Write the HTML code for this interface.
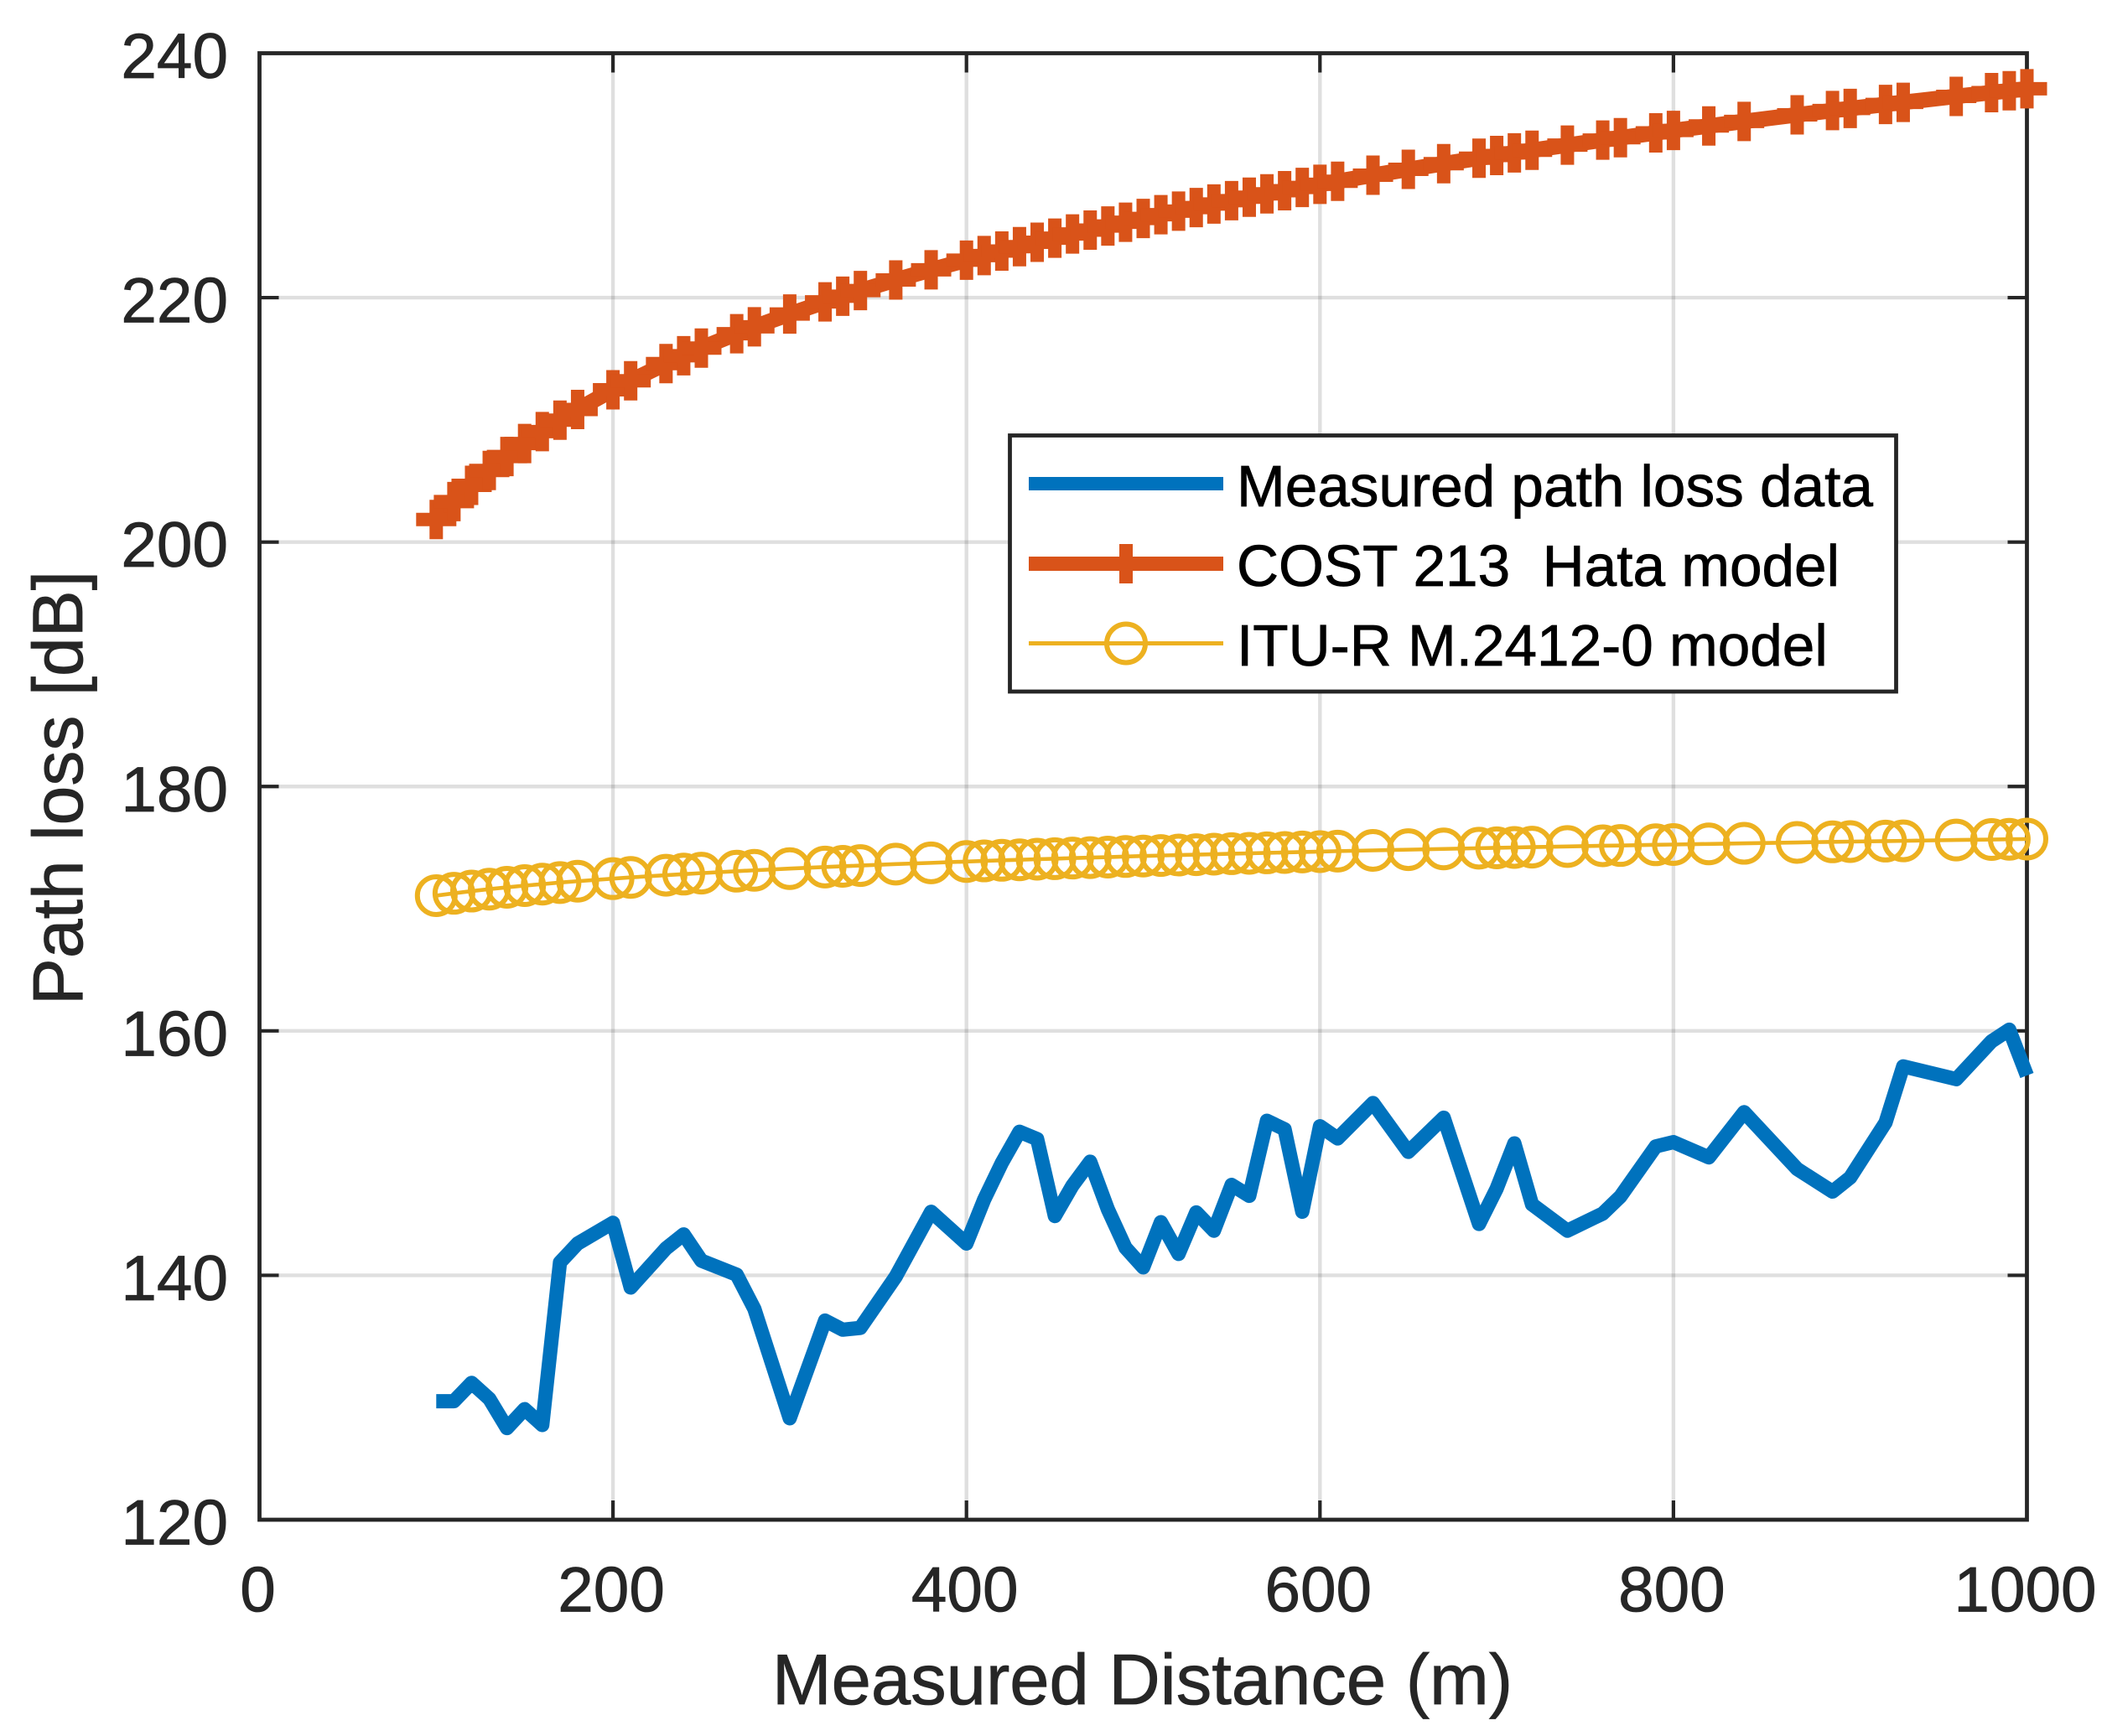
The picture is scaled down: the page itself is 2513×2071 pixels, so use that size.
<!DOCTYPE html>
<html lang="en">
<head>
<meta charset="utf-8">
<title>Path loss versus measured distance</title>
<style>
  html, body { margin: 0; padding: 0; background: #ffffff; }
  #chart { display: block; width: 2513px; height: 2071px; font-family: "Liberation Sans", Arial, sans-serif; }
</style>
</head>
<body>
<svg id="chart" xmlns="http://www.w3.org/2000/svg" width="2513" height="2071" viewBox="0 0 2513 2071">
  <rect x="0" y="0" width="2513" height="2071" fill="#ffffff"/>
  <g id="grid"></g>
  <g id="ticks"></g>
  <rect x="309.5" y="63.5" width="2108" height="1749.5" fill="none" stroke="#262626" stroke-width="4.8"/>
  <g id="tick-labels" stroke="#262626" stroke-width="0.8"></g>
  <text x="1362.5" y="2033" text-anchor="middle" font-size="85" fill="#262626" stroke="#262626" stroke-width="0.8">Measured Distance (m)</text>
  <text transform="translate(98 940) rotate(-90)" text-anchor="middle" font-size="84" fill="#262626" stroke="#262626" stroke-width="0.8">Path loss [dB]</text>
  <g id="series"></g>
  <g id="legend">
    <rect x="1204.5" y="519.5" width="1057" height="305.5" fill="#ffffff" stroke="#262626" stroke-width="4.8"/>
    <g>
      <line x1="1227" x2="1459" y1="577" y2="577" stroke="#0072BD" stroke-width="16"/>
      <text x="1475" y="604" font-size="69.3" fill="#000000" stroke="#000000" stroke-width="0.8">Measured path loss data</text>
    </g>
    <g>
      <line x1="1227" x2="1459" y1="672.5" y2="672.5" stroke="#D95319" stroke-width="17"/>
      <line x1="1343" x2="1343" y1="649" y2="696" stroke="#D95319" stroke-width="16"/>
      <text x="1475" y="699" font-size="69.3" fill="#000000" stroke="#000000" stroke-width="0.8" xml:space="preserve">COST 213  Hata model</text>
    </g>
    <g>
      <line x1="1227" x2="1459" y1="767.5" y2="767.5" stroke="#EDB120" stroke-width="5"/>
      <circle cx="1343" cy="767.5" r="23" fill="none" stroke="#EDB120" stroke-width="6"/>
      <text x="1475" y="794" font-size="69.3" fill="#000000" stroke="#000000" stroke-width="0.8">ITU-R M.2412-0 model</text>
    </g>
  </g>
</svg>
<script>
const xTickValues = [0, 200, 400, 600, 800, 1000];
const yTickValues = [120, 140, 160, 180, 200, 220, 240];
const distances = [100,110,120,130,140,150,160,170,180,200,210,230,240,250,270,280,300,320,330,340,360,380,400,410,420,430,440,450,460,470,480,490,500,510,520,530,540,550,560,570,580,590,600,610,630,650,670,690,700,710,720,740,760,770,790,800,820,840,870,890,900,920,930,960,980,990,1000];
const measuredPathLoss = [129.7,129.7,131.2,129.9,127.5,129.05,127.75,141.05,142.6,144.3,139,142.2,143.35,141.2,140.05,137.25,128.3,136.3,135.55,135.7,139.9,145.2,142.6,146.2,149.2,151.75,151.15,144.85,147.35,149.3,145.4,142.25,140.65,144.35,141.75,145.15,143.65,147.4,146.5,152.65,151.95,145.2,152.2,151.2,154.1,150.1,152.9,144.2,147.1,150.8,145.8,143.65,145.05,146.45,150.55,150.9,149.65,153.35,148.7,146.85,148,152.5,157.1,156.05,159.15,160.1,156.35];
const costHataPathLoss = [201.85,203.31,204.64,205.86,207,208.06,209.04,209.97,210.85,212.46,213.2,214.6,215.25,215.87,217.05,217.61,218.66,219.65,220.12,220.58,221.45,222.28,223.07,223.44,223.81,224.17,224.53,224.87,225.21,225.53,225.86,226.17,226.48,226.79,227.08,227.37,227.66,227.94,228.22,228.49,228.75,229.02,229.27,229.52,230.02,230.5,230.96,231.41,231.63,231.85,232.06,232.48,232.89,233.09,233.48,233.68,234.05,234.42,234.96,235.31,235.48,235.81,235.98,236.47,236.78,236.93,237.09];
const ituPathLoss = [171.07,171.26,171.44,171.6,171.75,171.89,172.01,172.14,172.25,172.46,172.56,172.74,172.83,172.91,173.07,173.14,173.28,173.41,173.47,173.53,173.65,173.75,173.86,173.91,173.96,174,174.05,174.09,174.14,174.18,174.22,174.27,174.31,174.35,174.39,174.42,174.46,174.5,174.53,174.57,174.6,174.64,174.67,174.71,174.77,174.83,174.89,174.95,174.98,175.01,175.04,175.09,175.15,175.17,175.23,175.25,175.3,175.35,175.42,175.47,175.49,175.53,175.55,175.62,175.66,175.68,175.7];

const SVG_NS = 'http://www.w3.org/2000/svg';
const plot = { left: 309.5, right: 2417.5, top: 63.5, bottom: 1813 };
const xDomain = [0, 1000];
const yDomain = [120, 240];

function xScale(v) {
  return plot.left + (v - xDomain[0]) / (xDomain[1] - xDomain[0]) * (plot.right - plot.left);
}
function yScale(v) {
  return plot.bottom - (v - yDomain[0]) / (yDomain[1] - yDomain[0]) * (plot.bottom - plot.top);
}
function make(tag, attrs, parent) {
  const el = document.createElementNS(SVG_NS, tag);
  for (const key in attrs) { el.setAttribute(key, attrs[key]); }
  parent.appendChild(el);
  return el;
}
function linePath(values) {
  return values.map(function (v, i) {
    return (i ? 'L' : 'M') + xScale(distances[i]).toFixed(2) + ' ' + yScale(v).toFixed(2);
  }).join(' ');
}

const gridGroup = document.getElementById('grid');
const ticksGroup = document.getElementById('ticks');
const labelsGroup = document.getElementById('tick-labels');
const seriesGroup = document.getElementById('series');
const gridStyle = { stroke: '#262626', 'stroke-opacity': 0.15, 'stroke-width': 4.4 };
const tickStyle = { stroke: '#262626', 'stroke-width': 4.2 };

xTickValues.forEach(function (v) {
  const x = xScale(v);
  if (v !== xDomain[0] && v !== xDomain[1]) {
    const g = make('line', Object.assign({ x1: x, x2: x, y1: plot.top, y2: plot.bottom }, gridStyle), gridGroup);
    
    
    const t1 = make('line', Object.assign({ x1: x, x2: x, y1: plot.bottom, y2: plot.bottom - 23 }, tickStyle), ticksGroup);
    
    
    const t2 = make('line', Object.assign({ x1: x, x2: x, y1: plot.top, y2: plot.top + 23 }, tickStyle), ticksGroup);
    
    
  }
  const label = make('text', { x: x - 2, y: 1922.5, 'text-anchor': 'middle', 'font-size': 76.5, fill: '#262626' }, labelsGroup);
  
  
  label.textContent = String(v);
});

yTickValues.forEach(function (v) {
  const y = yScale(v);
  if (v !== yDomain[0] && v !== yDomain[1]) {
    const g = make('line', Object.assign({ x1: plot.left, x2: plot.right, y1: y, y2: y }, gridStyle), gridGroup);
    
    
    const t1 = make('line', Object.assign({ x1: plot.left, x2: plot.left + 23, y1: y, y2: y }, tickStyle), ticksGroup);
    
    
    const t2 = make('line', Object.assign({ x1: plot.right, x2: plot.right - 23, y1: y, y2: y }, tickStyle), ticksGroup);
    
    
  }
  const label = make('text', { x: 272, y: y + 29.5, 'text-anchor': 'end', 'font-size': 76.5, fill: '#262626' }, labelsGroup);
  
  
  label.textContent = String(v);
});

const measuredLine = make('path', { d: linePath(measuredPathLoss), fill: 'none', stroke: '#0072BD', 'stroke-width': 17, 'stroke-linejoin': 'round', 'stroke-linecap': 'butt' }, seriesGroup);



const hataLine = make('path', { d: linePath(costHataPathLoss), fill: 'none', stroke: '#D95319', 'stroke-width': 18.5, 'stroke-linejoin': 'round' }, seriesGroup);



costHataPathLoss.forEach(function (v, i) {
  const cx = xScale(distances[i]);
  const cy = yScale(v);
  const marker = make('path', { d: 'M' + (cx - 24) + ' ' + cy + ' H' + (cx + 24) + ' M' + cx + ' ' + (cy - 23.5) + ' V' + (cy + 23.5), fill: 'none', stroke: '#D95319', 'stroke-width': 16 }, seriesGroup);
  
  
});

const ituLine = make('path', { d: linePath(ituPathLoss), fill: 'none', stroke: '#EDB120', 'stroke-width': 4.6 }, seriesGroup);



ituPathLoss.forEach(function (v, i) {
  const marker = make('circle', { cx: xScale(distances[i]), cy: yScale(v), r: 22.5, fill: 'none', stroke: '#EDB120', 'stroke-width': 6 }, seriesGroup);
  
  
});
</script>
</body>
</html>
